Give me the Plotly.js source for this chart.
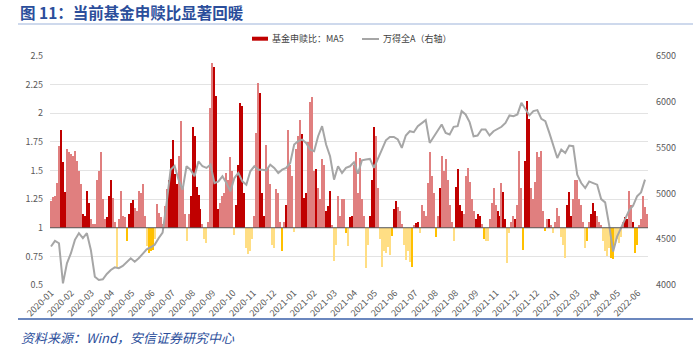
<!DOCTYPE html>
<html>
<head>
<meta charset="utf-8">
<script src="https://cdn.plot.ly/plotly-3.0.1.min.js"></script>
<style>html,body{margin:0;padding:0;background:#fff;}#chart{width:693px;height:351px;}</style>
</head>
<body>
<div id="chart"></div>
<script>
// ---- data ----
var tickLabels = ["2020-01","2020-02","2020-03","2020-04","2020-05","2020-06","2020-07","2020-08","2020-09","2020-10",
  "2020-11","2020-12","2021-01","2021-02","2021-03","2021-04","2021-05","2021-06","2021-07","2021-08",
  "2021-08","2021-09","2021-11","2021-12","2021-12","2022-01","2022-03","2022-04","2022-05","2022-06"];

// 基金申赎比：MA5 (sampled along the time axis)
var ratioMA5 = [
1.23,1.27,1.28,1.39,1.71,1.85,1.57,1.31,1.69,1.66,
1.64,1.63,1.67,1.58,1.50,1.38,1.12,1.10,1.32,1.22,
1.08,1.03,1.03,1.42,1.50,1.66,1.25,1.08,1.09,1.28,
1.42,1.26,1.05,0.66,1.08,1.32,1.10,1.09,0.88,1.12,
1.22,1.24,1.17,1.15,1.32,1.30,1.38,1.10,0.84,0.78,
0.80,0.81,0.90,1.21,1.13,1.09,1.03,1.19,1.34,1.42,
1.60,1.77,1.47,1.38,1.63,1.93,1.36,1.12,0.88,1.12,
1.28,1.88,1.80,1.36,1.29,1.16,1.03,0.90,0.87,1.05,
2.05,2.44,2.40,2.15,1.16,1.22,1.28,1.30,1.48,1.42,
1.62,1.50,0.94,1.20,1.55,2.09,2.06,1.30,0.82,0.77,
0.80,0.90,1.10,1.83,2.26,2.18,1.30,1.10,1.72,1.52,
1.38,0.85,0.82,1.34,1.30,1.05,0.80,1.05,1.20,1.85,
1.55,1.45,0.96,1.69,1.80,1.94,1.82,1.26,1.30,1.75,
2.10,2.14,1.50,1.51,1.35,1.25,1.60,1.55,1.15,1.19,
1.32,1.02,0.71,0.85,1.28,1.10,1.25,1.25,0.95,0.84,
1.09,1.10,1.55,1.66,1.30,1.61,1.25,1.10,0.65,0.85,
1.10,1.42,1.88,1.80,1.35,0.90,0.66,0.80,0.78,0.83,
0.76,0.93,1.16,1.23,1.18,1.15,1.03,0.85,0.72,0.80,
0.70,0.66,1.02,1.04,1.05,0.95,1.20,1.15,1.10,1.39,
1.66,1.45,1.30,0.92,1.10,1.35,1.63,1.50,1.60,1.42,
1.20,1.05,0.88,1.36,1.51,1.20,1.15,1.12,1.45,1.52,
1.40,1.25,1.15,1.08,1.12,1.10,1.03,0.90,0.88,0.88,
1.08,1.22,1.35,1.20,1.15,1.10,1.39,1.31,1.08,0.69,
0.95,1.05,1.10,1.08,1.20,1.67,1.35,0.81,1.58,2.11,
1.95,1.35,1.25,1.40,1.66,1.62,1.67,1.15,0.97,1.08,
1.08,1.02,0.95,1.05,1.17,1.10,0.92,0.85,0.74,1.20,
1.31,1.10,1.25,1.42,1.42,1.25,1.20,1.05,0.82,0.88,
1.05,1.12,1.22,1.15,1.10,1.05,1.02,0.88,0.80,0.75,
0.82,0.74,0.73,0.85,0.90,0.87,0.92,1.05,1.09,1.08,
1.32,1.20,1.05,0.78,0.85,1.02,1.08,1.28,1.18,1.12];

// 万得全A（右轴）, one reading every second sample of the bar series
var windA = [
4420,4482,4456,4018,4237,4347,4493,4566,4511,4566,
4383,4091,4055,4062,4120,4164,4193,4183,4208,4245,
4292,4255,4292,4340,4390,4412,4438,4511,4573,4894,
5259,5300,5150,5040,5296,5259,5186,5350,5296,5278,
5314,5113,5132,5186,5113,5022,5168,5223,5132,5095,
5241,5296,5259,5259,5252,5314,5278,5223,5259,5278,
5332,5533,5570,5588,5551,5478,5460,5624,5734,5533,
5405,5150,5296,5223,5278,5296,5340,5215,5361,5369,
5376,5278,5369,5478,5580,5617,5617,5588,5497,5632,
5679,5668,5734,5763,5800,5551,5617,5679,5752,5661,
5643,5727,5734,5898,5862,5778,5624,5632,5697,5697,
5632,5679,5705,5727,5770,5851,5843,5862,5989,5916,
5851,5898,5909,5814,5789,5661,5533,5387,5478,5442,
5522,5515,5205,5113,5058,5131,5113,5095,4938,4902,
4657,4365,4529,4631,4730,4814,4865,4967,5011,5150];

// ---- styling (kept apart from the data) ----
var strongBins = [5,6,7,16,17,18,19,28,29,30,38,39,40,41,49,50,51,59,60,61,62,63,70,71,72,73,74,
  75,82,83,84,93,94,95,96,97,105,106,107,116,118,126,127,128,133,138,139,140,148,
  150,151,160,161,162,171,172,173,181,183,184,193,195,203,204,205,206,213,214,215,217,
  224,225,227,228,233,237,238,239,240,248,250,259,260,261,269,271,272,273,281,282,288,289,292,293,294];
var RED = '#C00000', PINK = '#E07F7F', GOLD = '#FFC000', LIGHTGOLD = '#FFDE84';
var LABEL_STEP = 10.15;  // samples between two axis labels
var FONT = 'Noto Sans CJK SC, Noto Sans, sans-serif';

var W = 693, H = 351, L = 50, R = 45, T = 56, B = 66;
var plotW = W - L - R, plotH = H - T - B;
function px(x){ return (x - L) / plotW; }
function py(y){ return (H - B - y) / plotH; }

var strongSet = {};
strongBins.forEach(function(i){ strongSet[i] = true; });
var idx = ratioMA5.map(function(_, i){ return i; });
var barColors = ratioMA5.map(function(v, i){
  if (v >= 1) return strongSet[i] ? RED : PINK;
  return strongSet[i] ? GOLD : LIGHTGOLD;
});

var bars = {
  type: 'bar', x: idx, y: ratioMA5.map(function(v){ return v - 1; }), base: 1,
  width: 1, marker: {color: barColors, line: {width: 0}},
  name: '基金申赎比：MA5', showlegend: false, hoverinfo: 'skip'
};
var line = {
  type: 'scatter', mode: 'lines', x: windA.map(function(_, i){ return i * 2; }), y: windA,
  yaxis: 'y2', line: {color: '#A6A6A6', width: 2}, name: '万得全A（右轴）',
  showlegend: false, hoverinfo: 'skip'
};

var layout = {
  width: W, height: H, margin: {l: L, r: R, t: T, b: B},
  paper_bgcolor: '#fff', plot_bgcolor: '#fff', bargap: 0,
  font: {family: FONT, size: 9, color: '#595959'},
  title: {text: '图 11：当前基金申赎比显著回暖', x: 20 / W, xanchor: 'left', xref: 'container',
          y: 1 - 14 / H, yanchor: 'middle', yref: 'container',
          font: {family: FONT, size: 15.5, color: '#2B4E9B', weight: 'bold'}},
  xaxis: {range: [-0.5, ratioMA5.length - 0.5], tickvals: tickLabels.map(function(_, k){ return k * LABEL_STEP; }),
          ticktext: tickLabels, tickangle: -45, showgrid: false, zeroline: false, showline: false, ticks: '',
          tickfont: {size: 9, color: '#595959'}, fixedrange: true},
  yaxis: {range: [0.5, 2.5], tickvals: [0.5,0.75,1,1.25,1.5,1.75,2,2.25,2.5],
          ticktext: ['0.5','0.75','1','1.25','1.5','1.75','2','2.25','2.5'],
          showgrid: true, gridcolor: '#E3E3E3', gridwidth: 1, zeroline: false, showline: false, ticks: '',
          ticklabelstandoff: 6, tickfont: {size: 9, color: '#595959'}},
  yaxis2: {range: [4000, 6500], dtick: 500, tickformat: 'd', overlaying: 'y', side: 'right',
           showgrid: false, zeroline: false, showline: false, ticks: '', ticklabelstandoff: 7,
           tickfont: {size: 9, color: '#595959'}},
  shapes: [
    {type: 'line', xref: 'paper', yref: 'y', x0: 0, x1: 1, y0: 1, y1: 1, line: {color: '#595959', width: 1}, layer: 'above'},
    {type: 'line', xref: 'paper', yref: 'paper', x0: px(18), x1: px(693), y0: py(24), y1: py(24), line: {color: '#9DB3DA', width: 1}},
    {type: 'line', xref: 'paper', yref: 'paper', x0: px(18), x1: px(693), y0: py(319), y1: py(319), line: {color: '#3A5FA8', width: 1.5}},
    {type: 'rect', xref: 'paper', yref: 'paper', x0: px(252), x1: px(268), y0: py(40.7), y1: py(36.7), fillcolor: RED, line: {width: 0}},
    {type: 'line', xref: 'paper', yref: 'paper', x0: px(362), x1: px(379), y0: py(39), y1: py(39), line: {color: '#A6A6A6', width: 2}}
  ],
  annotations: [
    {xref: 'paper', yref: 'paper', x: px(270), y: py(38.7), xanchor: 'left', yanchor: 'middle', showarrow: false,
     text: '基金申赎比：MA5', font: {size: 9, color: '#404040'}},
    {xref: 'paper', yref: 'paper', x: px(381), y: py(38.7), xanchor: 'left', yanchor: 'middle', showarrow: false,
     text: '万得全A（右轴）', font: {size: 9, color: '#404040'}},
    {xref: 'paper', yref: 'paper', x: px(19), y: py(337), xanchor: 'left', yanchor: 'middle', showarrow: false,
     text: '资料来源：Wind，安信证券研究中心', font: {size: 13, color: '#2B4E9B', style: 'italic'}}
  ]
};

Plotly.newPlot('chart', [bars, line], layout, {staticPlot: true, displayModeBar: false});
</script>
</body>
</html>
